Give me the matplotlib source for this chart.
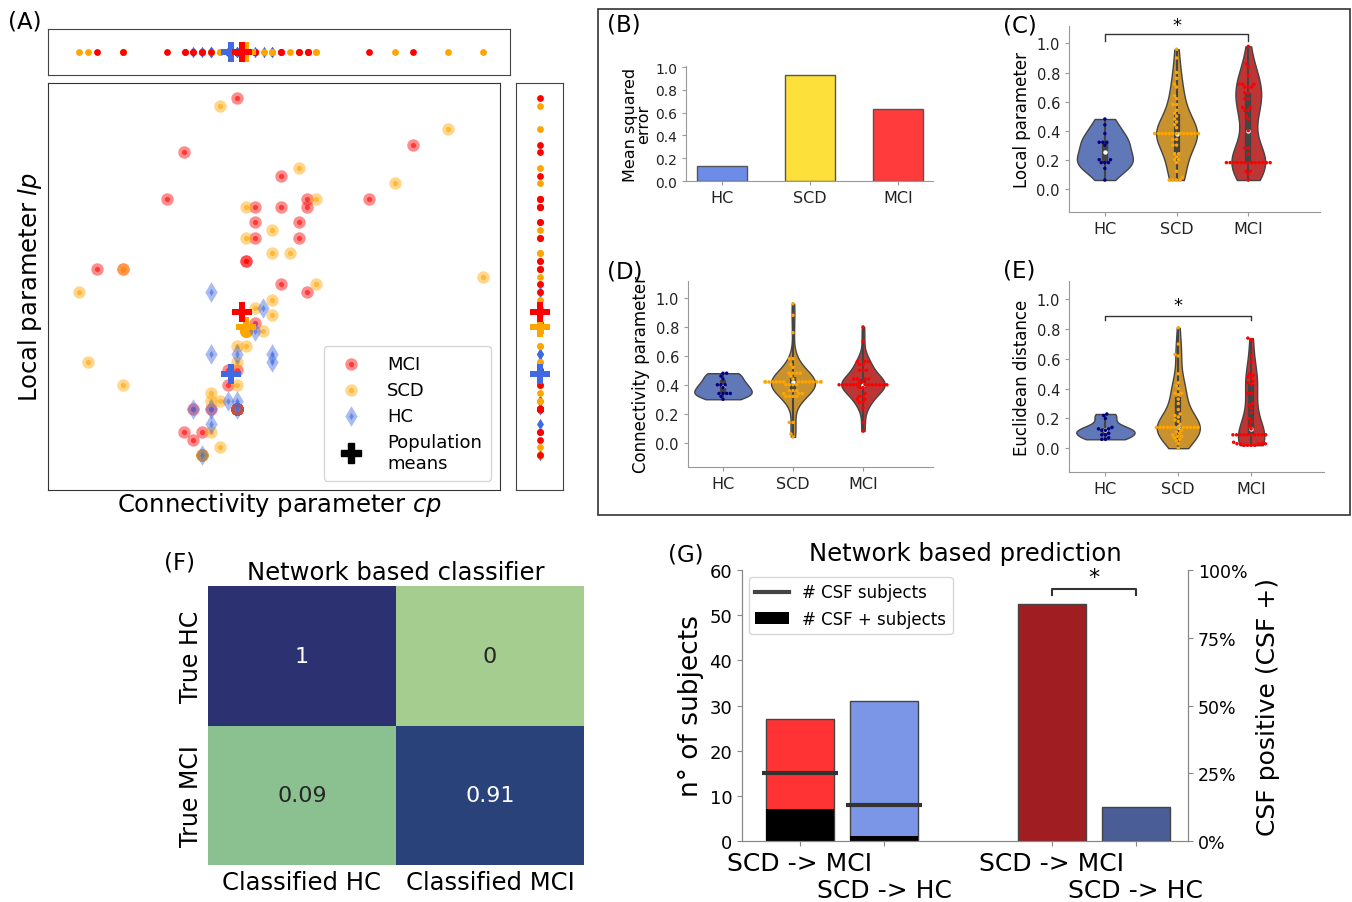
import numpy as np
import pandas as pd
import matplotlib
matplotlib.use('Agg')
import matplotlib.pyplot as plt
import seaborn as sns
from matplotlib.lines import Line2D
from matplotlib.patches import Patch, Rectangle
from matplotlib.legend_handler import HandlerTuple
from matplotlib.ticker import PercentFormatter
import warnings
warnings.filterwarnings('ignore')

plt.rcParams['font.family'] = ['DejaVu Sans']
plt.rcParams['mathtext.fontset'] = 'dejavusans'

# ---------------- data ----------------
groups = ['HC', 'SCD', 'MCI']

mci_cp = [0.40, 0.28, 0.24, 0.08, 0.14, 0.50, 0.44, 0.50, 0.56, 0.56, 0.44, 0.54, 0.44, 0.54, 0.42,
          0.42, 0.80, 0.70, 0.50, 0.56, 0.44, 0.38, 0.40, 0.38, 0.30, 0.34, 0.28, 0.32, 0.30, 0.32,
          0.40, 0.40, 0.40, 0.40, 0.40, 0.40, 0.40, 0.40, 0.40, 0.40, 0.40]
mci_lp = [0.98, 0.84, 0.72, 0.54, 0.54, 0.78, 0.70, 0.70, 0.72, 0.70, 0.66, 0.66, 0.62, 0.62, 0.56,
          0.56, 0.86, 0.72, 0.50, 0.48, 0.40, 0.28, 0.28, 0.24, 0.18, 0.18, 0.12, 0.12, 0.10, 0.06,
          0.18, 0.18, 0.18, 0.18, 0.18, 0.18, 0.18, 0.18, 0.18, 0.18, 0.18]

scd_cp = [0.36, 0.88, 0.54, 0.76, 0.58, 0.42, 0.48, 0.42, 0.48, 0.52, 0.14, 0.04, 0.96, 0.58, 0.48,
          0.44, 0.48, 0.46, 0.40, 0.42, 0.40, 0.06, 0.14, 0.40, 0.34, 0.34, 0.36, 0.34, 0.36, 0.32,
          0.40, 0.32, 0.32, 0.32,
          0.42, 0.42, 0.42, 0.42, 0.42, 0.42, 0.42, 0.42, 0.42, 0.42, 0.42, 0.42]
scd_lp = [0.96, 0.90, 0.80, 0.76, 0.72, 0.70, 0.64, 0.62, 0.58, 0.58, 0.54, 0.48, 0.52, 0.50, 0.46,
          0.44, 0.42, 0.38, 0.34, 0.34, 0.30, 0.30, 0.24, 0.24, 0.22, 0.20, 0.20, 0.12, 0.08, 0.06,
          0.18, 0.06, 0.06, 0.06,
          0.38, 0.38, 0.38, 0.38, 0.38, 0.38, 0.38, 0.38, 0.38, 0.38, 0.38, 0.38]

hc_cp = [0.34, 0.46, 0.44, 0.34, 0.40, 0.48, 0.48, 0.38, 0.40, 0.30, 0.34, 0.40, 0.34, 0.32]
hc_lp = [0.48, 0.44, 0.38, 0.32, 0.32, 0.32, 0.30, 0.20, 0.20, 0.18, 0.18, 0.18, 0.14, 0.06]

# population means (MCI, SCD, HC)
mean_groups = ['MCI', 'SCD', 'HC']
mean_cp = [0.41, 0.42, 0.385]
mean_lp = [0.43, 0.39, 0.27]

# (B) mean squared error
mse = [0.13, 0.93, 0.63]

# (E) Euclidean distance
hc_ed = [0.23, 0.22, 0.20, 0.14, 0.13, 0.13, 0.12, 0.12, 0.10, 0.09, 0.09, 0.07, 0.06, 0.06]
scd_ed = [0.81, 0.70, 0.63, 0.62, 0.50, 0.44, 0.42, 0.40, 0.37, 0.37, 0.36, 0.33, 0.30, 0.26, 0.23,
          0.22, 0.21, 0.19, 0.18, 0.16, 0.14, 0.14, 0.14, 0.14, 0.14, 0.14, 0.14, 0.14, 0.14, 0.14,
          0.14, 0.14, 0.12, 0.11, 0.10, 0.09, 0.08, 0.08, 0.07, 0.06, 0.05, 0.03, 0.00]
mci_ed = [0.74, 0.73, 0.62, 0.58, 0.50, 0.49, 0.48, 0.47, 0.45, 0.44, 0.43, 0.37, 0.37, 0.30, 0.29,
          0.27, 0.24, 0.20, 0.18, 0.15, 0.13, 0.09, 0.09, 0.09, 0.09, 0.09, 0.09, 0.09, 0.09, 0.09,
          0.09, 0.04, 0.03, 0.03, 0.03, 0.03, 0.03, 0.02, 0.02, 0.02, 0.02]

# (F) confusion matrix
conf_rows = ['True HC', 'True MCI']
conf_cols = ['Classified HC', 'Classified MCI']
conf_vals = [[1, 0], [0.09, 0.91]]

# (G) network based prediction
g_labels = ['SCD -> MCI', 'SCD -> HC', 'SCD -> MCI', 'SCD -> HC']
n_subjects = [27, 31]
n_csf = [15, 8]
n_csf_pos = [7, 1]
csf_pos_pct = [0.875, 0.125]

# ---------------- figure ----------------
W, H = 1352, 903
fig = plt.figure(figsize=(W / 100, H / 100), dpi=100)


def axpx(l, t, r, b):
    return fig.add_axes([l / W, 1 - b / H, (r - l) / W, (b - t) / H])


def ftext(x, y, s, **kw):
    fig.text(x / W, 1 - y / H, s, **kw)


gcol = {'MCI': 'red', 'SCD': 'orange', 'HC': 'royalblue'}
gmark = {'MCI': 'o', 'SCD': 'o', 'HC': 'd'}
gdata = {'MCI': (mci_cp, mci_lp), 'SCD': (scd_cp, scd_lp), 'HC': (hc_cp, hc_lp)}

# ---- (A) scatter ----
XL = (-0.031, 0.999)
YL = (-0.030, 1.019)
ax = axpx(48, 84, 500, 491)
handles = []
for g in ['MCI', 'SCD', 'HC']:
    cp, lp = gdata[g]
    big = 110 if g == 'HC' else 80
    h1 = ax.scatter(cp, lp, s=big, c=gcol[g], marker=gmark[g], alpha=0.45, linewidths=0)
    h2 = ax.scatter(cp, lp, s=14, c=gcol[g], marker=gmark[g], alpha=0.6, linewidths=0)
    handles.append((h1, h2))
for i in [2, 1, 0]:
    ax.scatter([mean_cp[i]], [mean_lp[i]], marker='P', s=190, c=gcol[mean_groups[i]],
               linewidths=0, zorder=5)
ax.set_xlim(*XL)
ax.set_ylim(*YL)
ax.set_xticks([])
ax.set_yticks([])
for sp in ax.spines.values():
    sp.set_color('#333333')
handles.append(Line2D([], [], marker='P', color='black', ls='', ms=14))
ax.legend(handles, ['MCI', 'SCD', 'HC', 'Population\nmeans'], loc='lower right',
          handler_map={tuple: HandlerTuple(ndivide=1, pad=0)}, fontsize=13,
          labelspacing=0.45, borderaxespad=0.5, handletextpad=1.0, borderpad=0.5)
ftext(280, 505, r'Connectivity parameter $cp$', ha='center', va='center', fontsize=17.5)
ftext(30, 287, r'Local parameter $lp$', ha='center', va='center', fontsize=17.5, rotation=90)

# top strip
axt = axpx(48, 30, 510, 76)
for g in ['HC', 'SCD', 'MCI']:
    cp, lp = gdata[g]
    axt.scatter(cp, np.zeros(len(cp)), s=34 if g == 'HC' else 24, c=gcol[g], marker=gmark[g],
                linewidths=0)
for i in [2, 1, 0]:
    axt.scatter([mean_cp[i]], [0], marker='P', s=190, c=gcol[mean_groups[i]], linewidths=0, zorder=5)
axt.set_xlim(-0.031, 1.021)
axt.set_ylim(-1, 1)
axt.set_xticks([])
axt.set_yticks([])
for sp in axt.spines.values():
    sp.set_color('#444444')

# right strip
axr = axpx(516, 84, 563, 491)
for g in ['HC', 'SCD', 'MCI']:
    cp, lp = gdata[g]
    axr.scatter(np.zeros(len(lp)), lp, s=34 if g == 'HC' else 24, c=gcol[g], marker=gmark[g],
                linewidths=0)
for i in [2, 1, 0]:
    axr.scatter([0], [mean_lp[i]], marker='P', s=190, c=gcol[mean_groups[i]], linewidths=0, zorder=5)
axr.set_ylim(*YL)
axr.set_xlim(-1, 1)
axr.set_xticks([])
axr.set_yticks([])
for sp in axr.spines.values():
    sp.set_color('#444444')

# ---- box around B-E ----
fig.patches.append(Rectangle((598 / W, 1 - 516 / H), (1350 - 598) / W, (516 - 10) / H,
                             transform=fig.transFigure, fill=False, edgecolor='#333333', lw=1.2))


def clean(a, spine_col='#999999'):
    a.spines['top'].set_visible(False)
    a.spines['right'].set_visible(False)
    a.spines['left'].set_color(spine_col)
    a.spines['bottom'].set_color(spine_col)
    a.tick_params(colors='#222222', length=3, color='#999999')


# ---- (B) ----
axb = axpx(686, 67, 933, 182)
axb.bar(range(3), mse, width=0.57, color=['#6d8ce8', '#fde03a', '#ff3b3b'],
        edgecolor='#555555', linewidth=1)
axb.set_xlim(-0.41, 2.40)
axb.set_ylim(0, 1.01)
axb.set_xticks(range(3))
axb.set_xticklabels(groups, fontsize=11.5)
axb.set_yticks(np.arange(0, 1.01, 0.2))
axb.set_yticklabels(['%.1f' % v for v in np.arange(0, 1.01, 0.2)], fontsize=10)
axb.set_ylabel('Mean squared\nerror', fontsize=11.5, linespacing=0.8, labelpad=3)
clean(axb)

# ---- violins ----
vcol = ['#6078b8', '#c8922f', '#bd3636']
scol = ['navy', 'orange', 'red']


def violin(a, vals_list, ylabel, ylim, widths):
    parts = a.violinplot([np.asarray(v) for v in vals_list], positions=[0, 1, 2], widths=widths,
                         showextrema=False, showmedians=False)
    for body, c in zip(parts['bodies'], vcol):
        body.set_facecolor(c)
        body.set_edgecolor('#444444')
        body.set_linewidth(1)
        body.set_alpha(1)
    for i, v in enumerate(vals_list):
        q1, med, q3 = np.percentile(v, [25, 50, 75])
        a.vlines(i, min(v), max(v), color='#444444', lw=1.5, zorder=3)
        a.vlines(i, q1, q3, color='#444444', lw=4.5, zorder=3)
        a.scatter([i], [med], s=10, c='white', zorder=4, linewidths=0)
    df = pd.DataFrame({'group': np.repeat(groups, [len(v) for v in vals_list]),
                       'val': np.concatenate(vals_list)})
    sns.swarmplot(data=df, x='group', y='val', hue='group', order=groups, hue_order=groups,
                  palette=scol, size=2.5, legend=False, ax=a, zorder=5)
    a.set_xlim(-0.5, 3.0)
    a.set_ylim(*ylim)
    a.set_xlabel('')
    a.set_ylabel(ylabel, fontsize=12)
    a.set_yticks(np.arange(0, 1.01, 0.2))
    a.set_yticklabels(['%.1f' % v for v in np.arange(0, 1.01, 0.2)], fontsize=10.5)
    a.set_xticks(range(3))
    a.set_xticklabels(groups, fontsize=11.5)
    clean(a)


axc = axpx(1069, 27, 1320, 213)
violin(axc, [hc_lp, scd_lp, mci_lp], 'Local parameter', (-0.16, 1.12), [0.78, 0.57, 0.47])
axc.plot([0, 0, 2, 2], [1.02, 1.064, 1.064, 1.02], color='#333333', lw=1, clip_on=False)
axc.text(1, 1.13, '*', ha='center', va='center', fontsize=13, clip_on=False)

axd = axpx(688, 282, 933, 468)
violin(axd, [hc_cp, scd_cp, mci_cp], 'Connectivity parameter', (-0.168, 1.117), [0.82, 0.63, 0.62])

axe = axpx(1069, 282, 1324, 473)
violin(axe, [hc_ed, scd_ed, mci_ed], 'Euclidean distance', (-0.16, 1.124), [0.80, 0.59, 0.36])
axe.plot([0, 0, 2, 2], [0.86, 0.89, 0.89, 0.86], color='#333333', lw=1)
axe.text(1, 0.965, '*', ha='center', va='center', fontsize=13)

# ---- (F) ----
axf = axpx(208, 587, 584, 866)
sns.heatmap(np.array(conf_vals), annot=True, fmt='.2g', cmap='crest', cbar=False, ax=axf,
            annot_kws={'fontsize': 16}, xticklabels=conf_cols, yticklabels=conf_rows)
axf.tick_params(length=0, labelsize=17.5)
axf.set_yticklabels(conf_rows, rotation=90, va='center', fontsize=17)
axf.set_xticklabels(conf_cols, fontsize=17.5)
axf.set_title('Network based classifier', fontsize=17.5, pad=5)

# ---- (G) ----
axg = axpx(742, 571, 1188, 842)
xg = [0, 1]
axg.bar(xg, n_subjects, width=0.8, color=['#ff3333', '#7b96e6'], edgecolor='#444444', linewidth=1)
axg.bar(xg, n_csf_pos, width=0.8, color='black')
axg.hlines(n_csf, [x - 0.45 for x in xg], [x + 0.45 for x in xg], color='#333333', lw=3)
axg.set_ylim(0, 60)
axg.set_xlim(-0.69, 4.62)
axg.set_yticks(range(0, 61, 10))
axg.tick_params(axis='y', labelsize=13)
axg.set_xticks([0, 1, 3, 4])
axg.set_xticklabels(g_labels, fontsize=18)
for k, tk in enumerate(axg.xaxis.get_major_ticks()):
    tk.set_pad(3.5 if k % 2 == 0 else 23)
axg.set_ylabel('n° of subjects', fontsize=19, labelpad=4)
axg.set_title('Network based prediction', fontsize=17.5, pad=7)
for s in ['left', 'bottom', 'right']:
    axg.spines[s].set_color('#888888')
axg.spines['top'].set_visible(False)
axg.tick_params(color='#888888')

axg2 = axg.twinx()
axg2.bar([3, 4], csf_pos_pct, width=0.8, color=['#a01e22', '#4a5d96'], edgecolor='#444444',
         linewidth=1)
axg2.set_ylim(0, 1)
axg2.set_yticks([0, 0.25, 0.5, 0.75, 1.0])
axg2.yaxis.set_major_formatter(PercentFormatter(1.0, decimals=0))
axg2.tick_params(axis='y', labelsize=12.5, color='#888888')
axg2.set_ylabel('CSF positive (CSF +)', fontsize=18, labelpad=6)
axg2.spines['top'].set_visible(False)
for s in ['left', 'bottom', 'right']:
    axg2.spines[s].set_color('#888888')
axg2.plot([3, 3, 4, 4], [0.908, 0.93, 0.93, 0.908], color='#333333', lw=1.5)
axg2.text(3.5, 0.975, '*', ha='center', va='center', fontsize=16)
axg.legend([Line2D([], [], color='#444444', lw=3), Patch(facecolor='black')],
           ['# CSF subjects', '# CSF + subjects'], loc='upper left', fontsize=12,
           borderaxespad=0.4, handlelength=2.0)

# ---- panel labels ----
for s, x, y in [('(A)', 8, 22), ('(B)', 607, 25), ('(C)', 1003, 26), ('(D)', 607, 272),
                ('(E)', 1003, 271), ('(F)', 164, 563), ('(G)', 668, 555)]:
    ftext(x, y, s, ha='left', va='center', fontsize=16.5)

fig.savefig('out.png', dpi=100)
